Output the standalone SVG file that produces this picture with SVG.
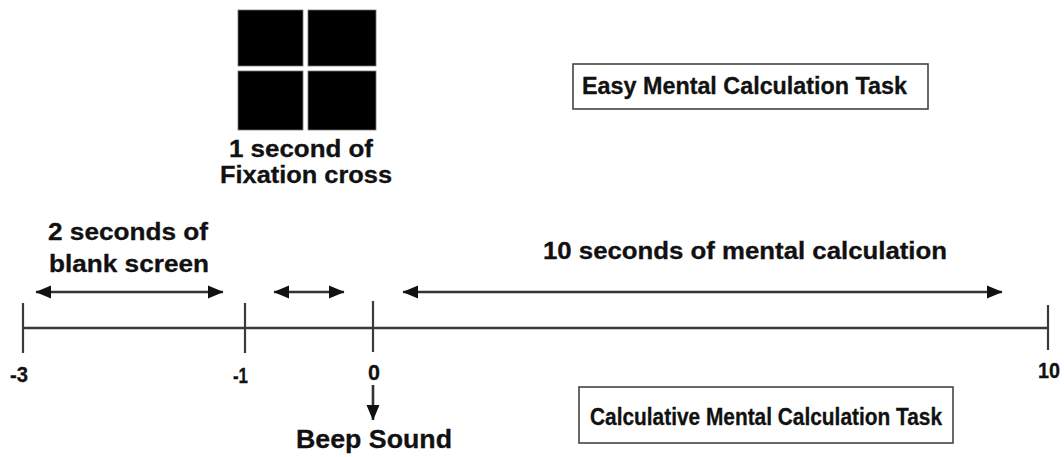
<svg xmlns="http://www.w3.org/2000/svg" width="1064" height="457" viewBox="0 0 1064 457">
  <style>
    text { font-family: "Liberation Sans", Arial, sans-serif; font-weight: bold; fill: #111; stroke: #111; stroke-width: 0.3; }
    .lbl { font-size: 23px; }
    .num { font-size: 22px; }
    .task { font-size: 23px; }
    .beep { font-size: 25px; }
    .box { fill: #fff; stroke: #444; stroke-width: 1.6; }
    .axis { stroke: #3a3a3a; stroke-width: 2.6; fill: none; }
    .tick { stroke: #3a3a3a; stroke-width: 2.2; fill: none; }
    .arrow { stroke: #333; stroke-width: 2.6; fill: none; }
    .sq { fill: #000; stroke: #777; stroke-width: 0.8; }
  </style>
  <defs>
    <marker id="head" markerUnits="userSpaceOnUse" markerWidth="16" markerHeight="14" refX="15" refY="7" orient="auto-start-reverse" viewBox="0 0 16 14">
      <path d="M0,0.5 L15.5,7 L0,13.5 Z" fill="#111"/>
    </marker>
  </defs>
  <rect width="1064" height="457" fill="#fff"/>

  <!-- fixation cross: four black squares separated by a white cross -->
  <g id="fixation">
    <rect class="sq" x="238" y="10" width="65" height="56"/>
    <rect class="sq" x="308" y="10" width="68" height="56"/>
    <rect class="sq" x="238" y="71" width="65" height="59"/>
    <rect class="sq" x="308" y="71" width="68" height="59"/>
    <text class="lbl" x="229" y="157" textLength="144" lengthAdjust="spacingAndGlyphs">1 second of</text>
    <text class="lbl" x="220" y="183" textLength="172" lengthAdjust="spacingAndGlyphs">Fixation cross</text>
  </g>

  <g id="easy-task">
    <rect class="box" x="573" y="64" width="355" height="45"/>
    <text class="task" x="582" y="94" textLength="325" lengthAdjust="spacingAndGlyphs">Easy Mental Calculation Task</text>
  </g>

  <g id="blank-label">
    <text class="lbl" x="48" y="240" textLength="160" lengthAdjust="spacingAndGlyphs">2 seconds of</text>
    <text class="lbl" x="49" y="272" textLength="160" lengthAdjust="spacingAndGlyphs">blank screen</text>
  </g>

  <g id="calc-label">
    <text class="task" x="543" y="259" textLength="404" lengthAdjust="spacingAndGlyphs">10 seconds of mental calculation</text>
  </g>

  <!-- time axis with ticks -->
  <g id="timeline">
    <line class="axis" x1="23" y1="328" x2="1048" y2="328"/>
    <line class="tick" x1="23" y1="303" x2="23" y2="353"/>
    <line class="tick" x1="245" y1="303" x2="245" y2="353"/>
    <line class="tick" x1="373" y1="301" x2="373" y2="352"/>
    <line class="tick" x1="1048" y1="305" x2="1048" y2="350"/>
    <text class="num" x="10" y="382" textLength="18" lengthAdjust="spacingAndGlyphs">-3</text>
    <text class="num" x="233" y="383" textLength="15" lengthAdjust="spacingAndGlyphs">-1</text>
    <text class="num" x="368" y="380" textLength="12" lengthAdjust="spacingAndGlyphs">0</text>
    <text class="num" x="1038" y="378" textLength="22" lengthAdjust="spacingAndGlyphs">10</text>
  </g>

  <g id="beep">
    <text class="beep" x="296" y="448" textLength="156" lengthAdjust="spacingAndGlyphs">Beep Sound</text>
  </g>

  <g id="calculative-task">
    <rect class="box" x="579" y="387" width="374" height="56"/>
    <text class="task" x="590" y="425" textLength="352" lengthAdjust="spacingAndGlyphs">Calculative Mental Calculation Task</text>
  </g>

  <!-- duration arrows and the beep pointer -->
  <g id="connectors">
    <line class="arrow" x1="36" y1="292" x2="223" y2="292" marker-start="url(#head)" marker-end="url(#head)"/>
    <line class="arrow" x1="274" y1="292" x2="344" y2="292" marker-start="url(#head)" marker-end="url(#head)"/>
    <line class="arrow" x1="403" y1="292" x2="1002" y2="292" marker-start="url(#head)" marker-end="url(#head)"/>
    <line class="arrow" x1="373" y1="385" x2="373" y2="420" stroke-width="2" marker-end="url(#head)"/>
  </g>
</svg>
